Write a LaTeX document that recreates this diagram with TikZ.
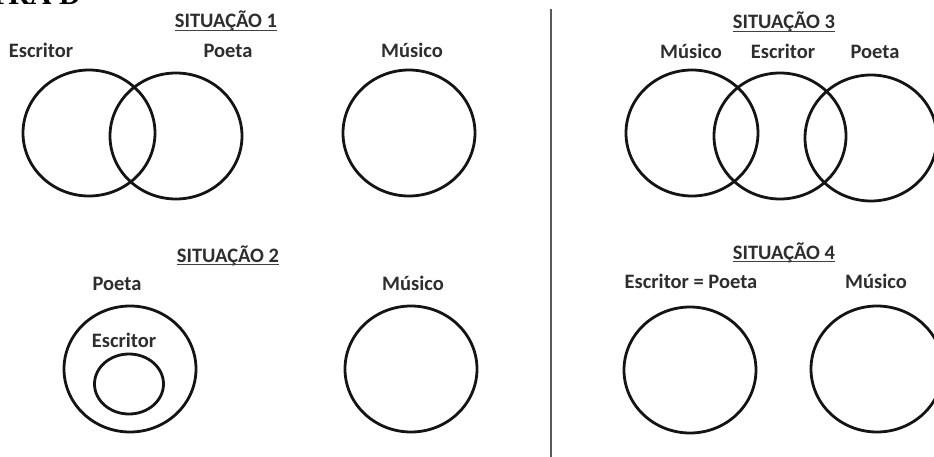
\documentclass[tikz,border=0pt]{standalone}
\usepackage{fontspec}
\setmainfont{Carlito}
\newfontfamily\headserif{Liberation Serif}
\usetikzlibrary{shapes.geometric}
\begin{document}
\begin{tikzpicture}[x=1pt,y=-1pt,
  circ/.style={ellipse, draw=black!92, line width=2.8pt, minimum width=132pt, minimum height=126pt, inner sep=0pt},
  smallcirc/.style={ellipse, draw=black!92, line width=2.8pt, minimum width=69pt, minimum height=60pt, inner sep=0pt},
  lbl/.style={font=\fontsize{20.5}{24}\selectfont\bfseries, text=black!82, inner sep=0pt, anchor=base},
  ttl/.style={lbl},
  uline/.style={draw=black!75, line width=1.1pt},
  divider/.style={draw=black!65, line width=2pt}]
\useasboundingbox[fill=white] (0,0) rectangle (934,457);

% clipped heading at the very top
\node[font=\fontsize{30}{34}\selectfont\headserif\bfseries, anchor=base east, inner sep=0pt] (hd) at (81,5) {LETRA D};

% divider
\coordinate (dtop) at (551,9);
\coordinate (dbot) at (551,457);
\draw[divider] (dtop) -- (dbot);

% ---------- Situacao 1 ----------
\node[ttl] (t1) at (226,28) {SITUAÇÃO 1};
\draw[uline] ([yshift=-2.5pt]t1.base west) -- ([yshift=-2.5pt]t1.base east);
\node[lbl] (l1e) at (41,58) {Escritor};
\node[lbl] (l1p) at (228,58) {Poeta};
\node[lbl] (l1m) at (412,58) {Músico};
\node[circ] (c1e) at (89,133) {};
\node[circ] (c1p) at (176,136) {};
\node[circ] (c1m) at (409,133) {};

% ---------- Situacao 2 ----------
\node[ttl] (t2) at (228,262) {SITUAÇÃO 2};
\draw[uline] ([yshift=-2.5pt]t2.base west) -- ([yshift=-2.5pt]t2.base east);
\node[lbl] (l2p) at (117,290) {Poeta};
\node[lbl] (l2e) at (124,347) {Escritor};
\node[lbl] (l2m) at (413,290) {Músico};
\node[circ] (c2p) at (130,369) {};
\node[smallcirc] (c2e) at (129,384) {};
\node[circ] (c2m) at (411,369) {};

% ---------- Situacao 3 ----------
\node[ttl] (t3) at (784,29) {SITUAÇÃO 3};
\draw[uline] ([yshift=-2.5pt]t3.base west) -- ([yshift=-2.5pt]t3.base east);
\node[lbl] (l3m) at (691,59) {Músico};
\node[lbl] (l3e) at (783,59) {Escritor};
\node[lbl] (l3p) at (875,59) {Poeta};
\node[circ] (c3m) at (692,133) {};
\node[circ] (c3e) at (780,136) {};
\node[circ] (c3p) at (871,138) {};

% ---------- Situacao 4 ----------
\node[ttl] (t4) at (784,259) {SITUAÇÃO 4};
\draw[uline] ([yshift=-2.5pt]t4.base west) -- ([yshift=-2.5pt]t4.base east);
\node[lbl] (l4e) at (691,288) {Escritor = Poeta};
\node[lbl] (l4m) at (876,288) {Músico};
\node[circ] (c4e) at (690,370) {};
\node[circ] (c4m) at (877,369) {};
\end{tikzpicture}
\end{document}
